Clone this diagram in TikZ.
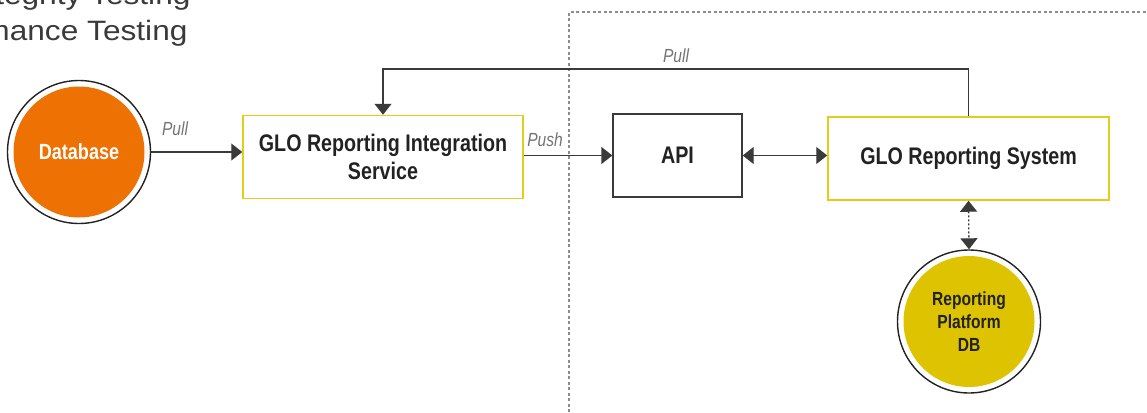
\documentclass[tikz,border=0pt]{standalone}
\usepackage{fontspec}
\setmainfont{Liberation Sans}
\newfontfamily\condfont{Liberation Sans}[FakeStretch=0.82]
\newfontfamily\headfont{Liberation Sans}[FakeStretch=1.13]
\usetikzlibrary{arrows.meta,positioning}
\definecolor{dborange}{HTML}{EE7203}
\definecolor{dbyellow}{HTML}{DDC300}
\definecolor{boxyellow}{HTML}{E3CC1A}
\definecolor{linegray}{HTML}{3A3A3A}
\definecolor{textdark}{HTML}{222222}
\tikzset{box/.style = {draw=boxyellow,line width=1.5pt,minimum width=280pt,minimum height=83pt,inner sep=0pt,
  font=\condfont\bfseries\fontsize{24}{28}\selectfont,text=textdark,align=center}}
\tikzset{ring/.style = {circle,draw=textdark,line width=1.4pt,minimum size=143pt,inner sep=0pt}}
\tikzset{dbfill/.style = {circle,minimum size=131pt,inner sep=0pt,align=center,font=\condfont\bfseries}}
\tikzset{tip/.tip = {Triangle[length=11pt,width=17pt]}}
\tikzset{edge/.style = {-tip,draw=linegray,line width=1.3pt}}
\tikzset{lbl/.style = {font=\condfont\itshape\fontsize{19}{21}\selectfont,text=black!55}}
\tikzset{heading/.style = {anchor=base east,font=\headfont\fontsize{28}{32}\selectfont,text=linegray}}

\begin{document}
\begin{tikzpicture}[x=1pt,y=-1pt]
\useasboundingbox (0,0) rectangle (1147,412);

% heading, cut by the page edge
\node[heading] (head1) at (194,5) {Integrity Testing};
\node[heading] (head2) at (191,41) {Performance Testing};

% boundary of the platform side
\draw[draw=black!45,line width=1.3pt,dash pattern=on 3pt off 2.5pt] (569,412) -- (569,12) -- (1147,12);

\node[ring] (dbring) at (79,152) {};
\node[dbfill,fill=dborange,text=white,font=\condfont\bfseries\fontsize{22}{24}\selectfont] (db) at (dbring) {Database};

\node[box] (svc) at (383,157) {GLO Reporting Integration\\Service};
\node[box,draw=linegray,line width=1.3pt,minimum width=129pt] (api) at (677.5,155.5) {API};
\node[box,minimum width=281pt] (grs) at (968.5,158.5) {GLO Reporting System};

\node[ring] (rdbring) at (969,321.5) {};
\node[dbfill,fill=dbyellow,text=textdark,font=\condfont\bfseries\fontsize{19}{23}\selectfont] (rdb) at (rdbring) {Reporting\\Platform\\DB};

\draw[edge] (dbring.east) -- (dbring.east -| svc.west);
\node[lbl] (pull1) at (175,129) {Pull};

\draw[edge] (api.west -| svc.east) -- (api.west);
\node[lbl] (push) at (545,140) {Push};

\draw[edge,tip-tip] (api.east) -- (api.east -| grs.west);

\draw[edge] (grs.north) -- (grs.north |- 0,69) -| (svc.north);
\node[lbl] (pull2) at (676,56) {Pull};

\draw[edge,tip-tip,dash pattern=on 2pt off 2pt] (grs.south) -- (rdbring.north);
\end{tikzpicture}
\end{document}
